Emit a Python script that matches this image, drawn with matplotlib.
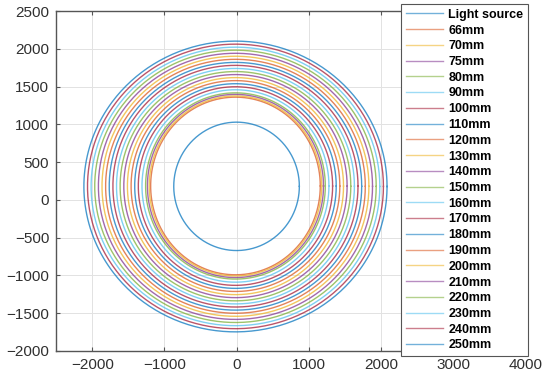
import matplotlib
matplotlib.use("Agg")
import matplotlib.pyplot as plt
import numpy as np

labels = ["Light source", "66mm", "70mm", "75mm", "80mm", "90mm", "100mm", "110mm",
          "120mm", "130mm", "140mm", "150mm", "160mm", "170mm", "180mm", "190mm",
          "200mm", "210mm", "220mm", "230mm", "240mm", "250mm"]
center_x = [0, -15, -15, -15, -15, -15, -15, -15, -15, -15, -15, -15, -15, -15, -15, -15,
            -15, -15, -15, -15, -15, -15]
center_y = [180, 185, 185, 185, 185, 185, 184, 184, 184, 183, 183, 182, 182, 182, 181,
            181, 181, 180, 180, 179, 179, 178]
radius_x = [870, 1175, 1195, 1220, 1245, 1295, 1346, 1396, 1446, 1497, 1547, 1598, 1648,
            1698, 1749, 1799, 1849, 1899, 1950, 2000, 2050, 2100]
radius_y = [850, 1176, 1192, 1213, 1233, 1274, 1315, 1355, 1396, 1437, 1477, 1518, 1559,
            1600, 1640, 1681, 1722, 1762, 1803, 1844, 1884, 1925]

matlab_colors = ["#0072BD", "#D95319", "#EDB120", "#7E2F8E", "#77AC30", "#4DBEEE", "#A2142F"]

plt.rcParams['font.family'] = ['Liberation Sans', 'DejaVu Sans']

fig = plt.figure(figsize=(5.5, 3.84), dpi=100)
ax = fig.add_axes([0.102, 0.086, 0.853, 0.885])

t = np.linspace(0, 2 * np.pi, 400)
handles = []
for i, lab in enumerate(labels):
    c = matlab_colors[i % 7]
    x = center_x[i] + radius_x[i] * np.cos(t)
    y = center_y[i] + radius_y[i] * np.sin(t)
    h, = ax.plot(x, y, color=c, lw=1.0, alpha=0.72, label=lab)
    handles.append(h)

ax.set_xlim(-2500, 4000)
ax.set_ylim(-2000, 2500)
ax.set_xticks([-2000, -1000, 0, 1000, 2000, 3000, 4000])
ax.set_yticks([-2000, -1500, -1000, -500, 0, 500, 1000, 1500, 2000, 2500])
ax.grid(True, color="#e2e2e2", lw=0.7)
ax.set_axisbelow(True)
for s in ax.spines.values():
    s.set_color("#555555")
    s.set_linewidth(1.0)
ax.tick_params(direction="in", top=True, right=True, length=3, color="#555555",
               labelsize=11, labelcolor="#303030", pad=5)

leg = fig.legend(handles=handles, loc="upper left",
                 bbox_to_anchor=(401 / 550, 1 - 4 / 384),
                 prop={'weight': 'bold', 'size': 9}, frameon=True, fancybox=False,
                 framealpha=1, edgecolor="#555555", labelspacing=0.3,
                 handlelength=3.0, handletextpad=0.4, borderpad=0.38,
                 borderaxespad=0)
leg.get_frame().set_linewidth(0.8)
for lh in leg.get_lines():
    lh.set_alpha(0.55)

fig.savefig("out.png", dpi=100)
